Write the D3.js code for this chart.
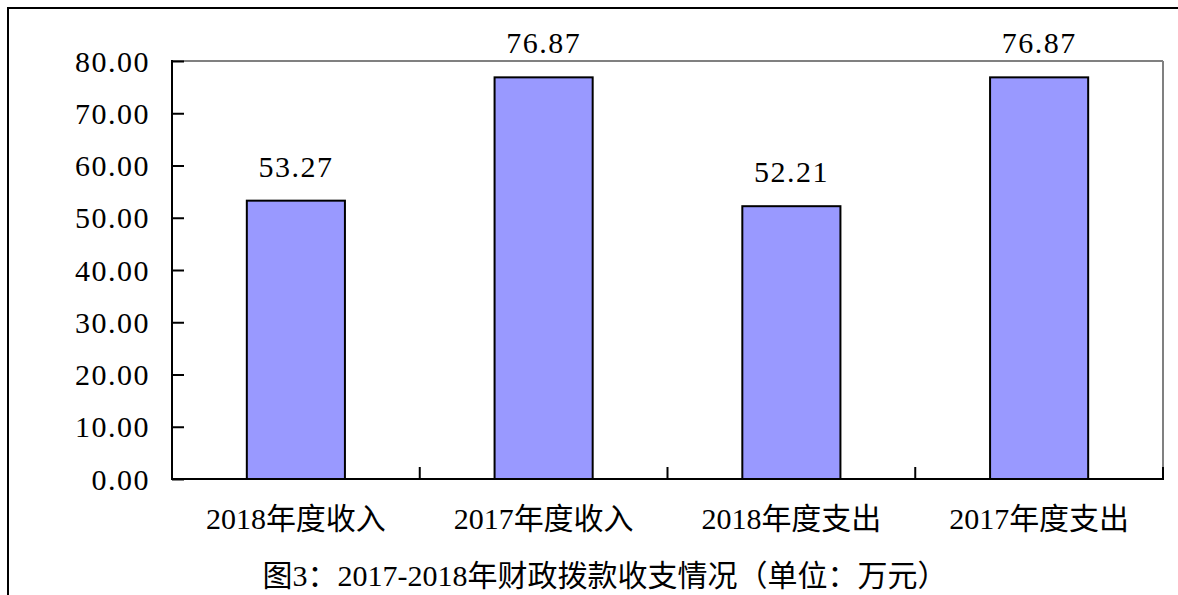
<!DOCTYPE html>
<html>
<head>
<meta charset="utf-8">
<script src="https://cdn.jsdelivr.net/npm/d3@7"></script>
<style>
  html, body { margin: 0; padding: 0; background: #fff; }
  svg { display: block; }
  text { font-family: "Liberation Serif", "Noto Sans CJK SC", serif; fill: #000; }
</style>
</head>
<body>
<svg id="chart" width="1178" height="595"></svg>
<script>
const categories = ["2018年度收入", "2017年度收入", "2018年度支出", "2017年度支出"];
const values = [53.27, 76.87, 52.21, 76.87];
const valueLabels = ["53.27", "76.87", "52.21", "76.87"];
const yTicks = [0, 10, 20, 30, 40, 50, 60, 70, 80];
const yTickLabels = ["0.00", "10.00", "20.00", "30.00", "40.00", "50.00", "60.00", "70.00", "80.00"];
const title = "图3：2017-2018年财政拨款收支情况（单位：万元）";

const svg = d3.select("#chart");
const W = 1178, H = 595;
const plot = { left: 172, right: 1163, top: 61, bottom: 479 };

// outer frame
svg.append("rect").attr("x", 8).attr("y", 8).attr("width", W + 20).attr("height", H + 20)
  .attr("fill", "#fff").attr("stroke", "#000").attr("stroke-width", 2);

const x = d3.scaleBand().domain(categories).range([plot.left, plot.right])
  .paddingInner(0.604).paddingOuter(0.302);
const y = d3.scaleLinear().domain([0, 80]).range([plot.bottom, plot.top]);

// plot border: top and right gray
svg.append("line").attr("x1", plot.left).attr("x2", plot.right).attr("y1", plot.top).attr("y2", plot.top)
  .attr("stroke", "#808080").attr("stroke-width", 2);
svg.append("line").attr("x1", plot.right).attr("x2", plot.right).attr("y1", plot.top).attr("y2", plot.bottom)
  .attr("stroke", "#808080").attr("stroke-width", 2);

// bars
svg.append("g").selectAll("rect").data(values).join("rect")
  .attr("x", (d, i) => x(categories[i]))
  .attr("y", d => y(d))
  .attr("width", x.bandwidth())
  .attr("height", d => y(0) - y(d))
  .attr("fill", "#9999FF")
  .attr("stroke", "#000")
  .attr("stroke-width", 2);

// value labels
svg.append("g").selectAll("text").data(values).join("text")
  .attr("x", (d, i) => x(categories[i]) + x.bandwidth() / 2)
  .attr("y", d => y(d) - 24)
  .attr("text-anchor", "middle")
  .attr("font-size", 30)
  .attr("letter-spacing", 1.5)
  .text((d, i) => valueLabels[i]);

// y axis
const yAxis = d3.axisRight(y).tickValues(yTicks).tickSize(12).tickFormat("");
const gy = svg.append("g").attr("transform", `translate(${plot.left},0)`).call(yAxis);
gy.select(".domain").remove();
gy.selectAll(".tick line").attr("stroke", "#000").attr("stroke-width", 2);
svg.append("line").attr("x1", plot.left).attr("x2", plot.left).attr("y1", plot.top - 1).attr("y2", plot.bottom + 1)
  .attr("stroke", "#000").attr("stroke-width", 2);
svg.append("g").selectAll("text").data(yTicks).join("text")
  .attr("x", 150)
  .attr("y", d => y(d))
  .attr("dy", "0.35em")
  .attr("text-anchor", "end")
  .attr("font-size", 30)
  .attr("letter-spacing", 1.5)
  .text((d, i) => yTickLabels[i]);

// x axis
svg.append("line").attr("x1", plot.left - 1).attr("x2", plot.right + 1).attr("y1", plot.bottom).attr("y2", plot.bottom)
  .attr("stroke", "#000").attr("stroke-width", 2);
const boundaries = categories.map((c, i) => plot.left + x.step() * (i + 1));
svg.append("g").selectAll("line").data(boundaries).join("line")
  .attr("x1", d => d).attr("x2", d => d)
  .attr("y1", plot.bottom).attr("y2", plot.bottom - 12)
  .attr("stroke", "#000").attr("stroke-width", 2);
svg.append("g").selectAll("text").data(categories).join("text")
  .attr("x", d => x(d) + x.bandwidth() / 2)
  .attr("y", 529)
  .attr("text-anchor", "middle")
  .attr("font-size", 30)
  .text(d => d);

// title
svg.append("text").attr("x", 605).attr("y", 586)
  .attr("text-anchor", "middle").attr("font-size", 30)
  .text(title);
</script>
</body>
</html>
